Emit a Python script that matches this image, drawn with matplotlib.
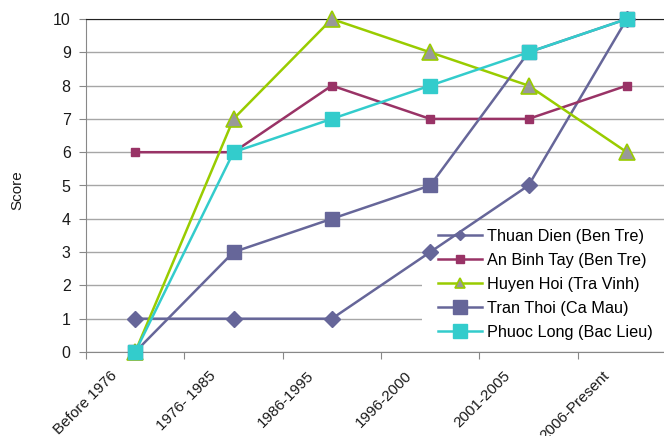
import matplotlib
matplotlib.use("Agg")
import matplotlib.pyplot as plt
import matplotlib.transforms as mtransforms
from matplotlib.lines import Line2D
from matplotlib.patches import Rectangle

plt.rcParams['font.family'] = ['Liberation Sans', 'DejaVu Sans']

periods = ["Before 1976", "1976- 1985", "1986-1995", "1996-2000", "2001-2005", "2006-Present"]

thuan_dien = [1, 1, 1, 3, 5, 10]
an_binh_tay = [6, 6, 8, 7, 7, 8]
huyen_hoi = [0, 7, 10, 9, 8, 6]
tran_thoi = [0, 3, 4, 5, 9, 10]
phuoc_long = [0, 6, 7, 8, 9, 10]

series = [
    ("Thuan Dien (Ben Tre)", thuan_dien,
     dict(color="#666699", marker="D", ms=8, mfc="#666699", mec="#666699"), 5.5),
    ("An Binh Tay (Ben Tre)", an_binh_tay,
     dict(color="#993366", marker="s", ms=5.5, mfc="#993366", mec="#993366"), 5.5),
    ("Huyen Hoi (Tra Vinh)", huyen_hoi,
     dict(color="#99CC00", marker="^", ms=11, mfc="#999999", mec="#99CC00", mew=1.2), 6.5),
    ("Tran Thoi (Ca Mau)", tran_thoi,
     dict(color="#666699", marker="s", ms=9.5, mfc="#666699", mec="#666699"), 9.5),
    ("Phuoc Long (Bac Lieu)", phuoc_long,
     dict(color="#33CCCC", marker="s", ms=9.5, mfc="#33CCCC", mec="#33CCCC"), 9.5),
]

W, H = 664, 436
fig = plt.figure(figsize=(W / 100, H / 100), dpi=100)
ax = fig.add_axes([86 / W, 1 - 352 / H, (676 - 86) / W, (352 - 19) / H])

x = [i + 0.5 for i in range(len(periods))]
handles = []
for label, vals, style, leg_ms in series:
    ax.plot(x, vals, lw=1.8, clip_on=False, zorder=3, **style)
    st = dict(style)
    st["ms"] = leg_ms
    handles.append(Line2D([], [], lw=1.8, label=label, **st))

ax.set_xlim(0, len(periods))
ax.set_ylim(0, 10)
ax.set_yticks(range(0, 11))
ax.yaxis.grid(True, color="#a6a6a6", lw=1)
ax.set_axisbelow(True)

ax.set_xticks(range(0, len(periods) + 1))
ax.set_xticklabels([])
ax.set_xticks(x, minor=True)
ax.set_xticklabels(periods, minor=True, rotation=45, ha="right", va="top",
                   rotation_mode="anchor", fontsize=11, color="#1a1a1a")
ax.tick_params(axis="x", which="minor", length=0)
ax.tick_params(axis="x", which="major", length=5, color="#888888", direction="out")
ax.tick_params(axis="y", length=5, color="#888888", pad=6, labelsize=11.5, labelcolor="#1a1a1a")

offset = mtransforms.ScaledTranslation(-0.25, -0.12, fig.dpi_scale_trans)
for lbl in ax.get_xticklabels(minor=True):
    lbl.set_transform(lbl.get_transform() + offset)

for side in ("left", "bottom"):
    ax.spines[side].set_color("#888888")
ax.spines["top"].set_color("#222222")
ax.spines["right"].set_visible(False)

fig.text(17 / W, 1 - 190 / H, "Score", rotation=90, ha="center", va="center",
         fontsize=11, color="#1a1a1a")

# white legend panel hiding the gridlines behind the entries
panel = Rectangle((422 / W, 1 - 351 / H), (W - 422) / W, (351 - 226) / H,
                  transform=fig.transFigure, facecolor="white", edgecolor="none", zorder=1.5)
ax.add_artist(panel)
panel.set_clip_on(False)

leg = ax.legend(handles=handles, loc="upper left",
                bbox_to_anchor=(438 / W, 1 - 229 / H), bbox_transform=fig.transFigure,
                fontsize=11.7, frameon=False, handlelength=2.7, handletextpad=0.3,
                labelspacing=0.55, borderpad=0, borderaxespad=0)
leg.set_zorder(2.5)

fig.savefig("out.png", dpi=100)
